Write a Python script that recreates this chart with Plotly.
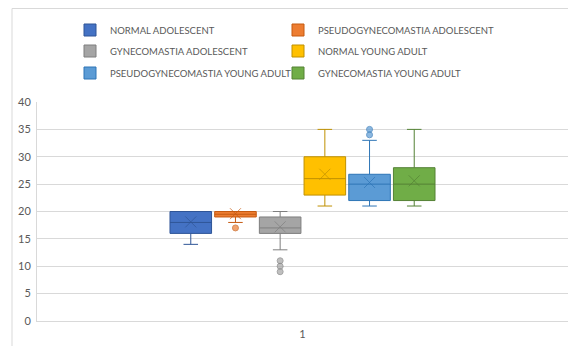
import plotly.graph_objects as go

category = "1"
groups = [
    "NORMAL ADOLESCENT",
    "PSEUDOGYNECOMASTIA ADOLESCENT",
    "GYNECOMASTIA ADOLESCENT",
    "NORMAL YOUNG ADULT",
    "PSEUDOGYNECOMASTIA YOUNG ADULT",
    "GYNECOMASTIA YOUNG ADULT",
]
q1 = [16, 19, 16, 23, 22, 22]
median = [18, 19.5, 17, 26, 25, 25]
q3 = [20, 20, 19, 30, 26.8, 28]
lowerfence = [14, 18, 13, 21, 21, 21]
upperfence = [20, 20, 20, 35, 33, 35]
mean = [18.1, 19.6, 17.2, 26.8, 25.3, 25.6]
outliers = [[], [17], [11, 10, 9], [], [35, 34], []]

fill_colors = ["#4472C4", "#ED7D31", "#A5A5A5", "#FFC000", "#5B9BD5", "#70AD47"]
line_colors = ["#2F5597", "#C55A11", "#7F7F7F", "#BF9000", "#2E75B6", "#548235"]

FONT = "Lato, 'Open Sans', sans-serif"
GREY = "#595959"

# the page body adds an 8px offset, so the figure is 8px smaller than the window
W, H = 568, 338
ML, MR, MT, MB = 29, 8, 94, 25
PLOT_W, PLOT_H = W - ML - MR, H - MT - MB

# legend layout: two columns, three rows (figure pixel coordinates)
legend_cols = [62, 270]
legend_rows = [22, 43, 65]

fig = go.Figure()
legend_names = ["legend"] + ["legend%d" % (k + 1) for k in range(1, len(groups))]
for i, g in enumerate(groups):
    fig.add_trace(go.Box(
        x=[category], q1=[q1[i]], median=[median[i]], q3=[q3[i]],
        lowerfence=[lowerfence[i]], upperfence=[upperfence[i]],
        name=g, offsetgroup=str(i), boxpoints=False, legend=legend_names[i],
        fillcolor=fill_colors[i],
        line=dict(color=line_colors[i], width=1),
        whiskerwidth=0.35, hoverinfo="skip",
    ))
for i, g in enumerate(groups):
    ys = [mean[i]] + outliers[i]
    symbols = ["x-thin-open"] + ["circle"] * len(outliers[i])
    sizes = [11] + [6] * len(outliers[i])
    fig.add_trace(go.Scatter(
        x=[category] * len(ys), y=ys, mode="markers",
        offsetgroup=str(i), showlegend=False,
        marker=dict(symbol=symbols, size=sizes,
                    color=[line_colors[i]] + [fill_colors[i]] * len(outliers[i]),
                    line=dict(width=1, color=line_colors[i])),
    ))

legends = {}
for i, name in enumerate(legend_names):
    col, row = i % 2, i // 2
    legends[name] = dict(
        orientation="h", x=(legend_cols[col] - ML) / PLOT_W, xanchor="left",
        y=1 + (MT - legend_rows[row]) / PLOT_H, yanchor="middle",
        itemwidth=30,
        font=dict(family=FONT, size=9.5, color=GREY),
        bgcolor="rgba(0,0,0,0)",
    )

fig.update_layout(
    width=W, height=H,
    margin=dict(l=ML, r=MR, t=MT, b=MB, autoexpand=False),
    paper_bgcolor="white", plot_bgcolor="white",
    boxmode="group", scattermode="group",
    boxgap=0.495, boxgroupgap=0.07, scattergap=0.495,
    font=dict(family=FONT, size=11, color=GREY),
    xaxis=dict(type="category", showgrid=False, showline=True,
               linecolor="#D9D9D9", linewidth=1, ticks="",
               ticklabelstandoff=3,
               tickfont=dict(size=11, color=GREY)),
    yaxis=dict(range=[0, 40], dtick=5, showgrid=True, gridcolor="#D9D9D9",
               gridwidth=1, showline=True, linecolor="#D9D9D9", linewidth=1,
               zeroline=False, ticks="", ticklabelstandoff=3,
               tickfont=dict(size=11, color=GREY)),
    shapes=[dict(type="rect", xref="paper", yref="paper",
                 x0=(4 - ML) / PLOT_W, x1=(567 - ML) / PLOT_W,
                 y0=-0.2, y1=1 + (MT - 0.5) / PLOT_H,
                 line=dict(color="#D9D9D9", width=1), layer="below")],
    **legends,
)

fig.write_html("out.html")
